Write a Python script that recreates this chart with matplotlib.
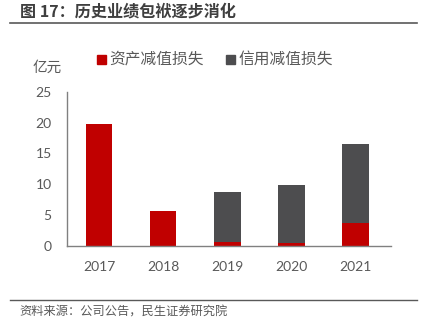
import matplotlib
matplotlib.use("Agg")
import matplotlib.pyplot as plt
from matplotlib.lines import Line2D
from matplotlib.patches import Rectangle

years = ["2017", "2018", "2019", "2020", "2021"]
asset_loss = [19.75, 5.68, 0.55, 0.44, 3.73]
credit_loss = [0.0, 0.0, 8.12, 9.46, 12.73]
yticks = [0, 5, 10, 15, 20, 25]

RED = "#C00000"
DARK = "#4D4D4F"
GRAY = "#595959"
CJK = ["Noto Sans CJK SC", "DejaVu Sans"]

fig = plt.figure(figsize=(4.27, 3.28), dpi=100)
ax = fig.add_axes([67/427, 1-245.7/328, (391-67)/427, (245.7-91.7)/328])
x = range(len(years))
w = 0.42
ax.bar(x, asset_loss, width=w, color=RED, label="资产减值损失", zorder=2)
ax.bar(x, credit_loss, width=w, bottom=asset_loss, color=DARK, label="信用减值损失", zorder=2)
ax.set_xlim(-0.5, len(years) - 0.44)
ax.set_ylim(0, 25)
ax.set_yticks(yticks)
ax.set_xticks(list(x))
ax.set_xticklabels(years)
for s in ["top", "right"]:
    ax.spines[s].set_visible(False)
for s in ["left", "bottom"]:
    ax.spines[s].set_color("#808080")
    ax.spines[s].set_linewidth(1.0)
ax.tick_params(axis="both", length=0, labelsize=10, colors=GRAY, labelfontfamily="Lato")
ax.tick_params(axis="y", pad=11)
ax.tick_params(axis="x", pad=11)

# y unit label
fig.text(47/427, 1-68/328, "亿元", family=CJK, fontsize=10.5, color=GRAY, ha="center", va="center")

# legend
fig.patches.append(Rectangle((97/427, 1-64/328), 9/427, 9/328, transform=fig.transFigure, color=RED))
fig.text(109/427, 1-59/328, "资产减值损失", family=CJK, fontsize=11.3, color=GRAY, va="center")
fig.patches.append(Rectangle((226/427, 1-64/328), 9/427, 9/328, transform=fig.transFigure, color=DARK))
fig.text(238/427, 1-59/328, "信用减值损失", family=CJK, fontsize=11.3, color=GRAY, va="center")

# title and lines
fig.text(20/427, 1-12/328, "图 17：历史业绩包袱逐步消化", family=CJK, fontsize=11.6,
         fontweight="bold", color="#3F3F3F", va="center")
fig.add_artist(Line2D([10/427, 417/427], [1-22.5/328, 1-22.5/328], color="#595959", lw=1.2))
fig.add_artist(Line2D([10/427, 417/427], [1-299.5/328, 1-299.5/328], color="#595959", lw=1.0))
fig.text(19/427, 1-312/328, "资料来源：公司公告，民生证券研究院", family=CJK, fontsize=8.8,
         color=GRAY, va="center")

fig.savefig("out.png", dpi=100, facecolor="white")
